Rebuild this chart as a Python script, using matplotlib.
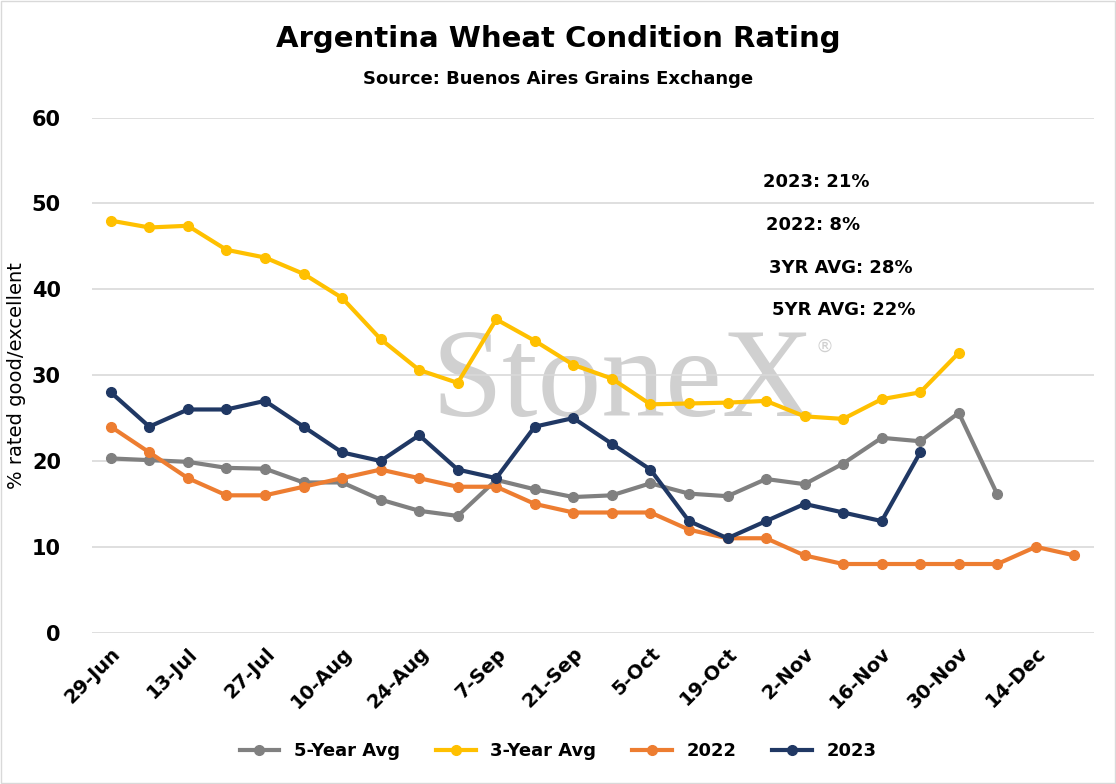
import matplotlib
matplotlib.use("Agg")
import matplotlib.pyplot as plt

dates = ["29-Jun", "6-Jul", "13-Jul", "20-Jul", "27-Jul", "3-Aug", "10-Aug", "17-Aug", "24-Aug",
         "31-Aug", "7-Sep", "14-Sep", "21-Sep", "28-Sep", "5-Oct", "12-Oct", "19-Oct", "26-Oct",
         "2-Nov", "9-Nov", "16-Nov", "23-Nov", "30-Nov", "7-Dec", "14-Dec", "21-Dec"]
avg5 = [20.3, 20.1, 19.9, 19.2, 19.1, 17.5, 17.5, 15.5, 14.2, 13.6, 17.8, 16.7, 15.8, 16.0,
        17.4, 16.2, 15.9, 17.9, 17.3, 19.7, 22.7, 22.3, 25.6, 16.1]
avg3 = [48.0, 47.2, 47.4, 44.6, 43.7, 41.8, 39.0, 34.2, 30.6, 29.1, 36.5, 34.0, 31.2, 29.6,
        26.6, 26.7, 26.8, 27.0, 25.2, 24.9, 27.2, 28.0, 32.6]
y2022 = [24, 21, 18, 16, 16, 17, 18, 19, 18, 17, 17, 15, 14, 14, 14, 12, 11, 11, 9, 8, 8, 8,
         8, 8, 10, 9]
y2023 = [28, 24, 26, 26, 27, 24, 21, 20, 23, 19, 18, 24, 25, 22, 19, 13, 11, 13, 15, 14, 13, 21]
notes = ["2023: 21%", "2022: 8%", "3YR AVG: 28%", "5YR AVG: 22%"]

fig = plt.figure(figsize=(11.16, 7.84), dpi=100)
fig.patches.append(plt.Rectangle((0.001, 0.001), 0.998, 0.998, transform=fig.transFigure,
                                 fill=False, edgecolor="#d9d9d9", lw=1))
ax = fig.add_axes([0.082, 0.193, 0.898, 0.657])

series = [(avg5, "5-Year Avg", "#808080"), (avg3, "3-Year Avg", "#FFC000"),
          (y2022, "2022", "#ED7D31"), (y2023, "2023", "#203864")]
for vals, label, color in series:
    ax.plot(range(len(vals)), vals, color=color, lw=3, marker="o", ms=7, label=label)

ax.text(0.53, 0.48, "StoneX", transform=ax.transAxes, fontsize=92, color="#d0d0d0",
        family="Liberation Serif", ha="center", va="center", zorder=0)
ax.text(0.722, 0.545, "®", transform=ax.transAxes, fontsize=13, color="#d0d0d0", zorder=0)

ax.set_xlim(-0.5, len(dates) - 0.5)
ax.set_ylim(0, 60)
ax.set_yticks(range(0, 61, 10))
ax.set_xticks(range(0, len(dates), 2))
ax.set_xticklabels(dates[::2], rotation=45, ha="right", rotation_mode="anchor",
                   fontsize=14, fontweight="bold")
ax.tick_params(axis="y", labelsize=15, length=0, pad=22)
ax.tick_params(axis="x", length=0, pad=8)
for lbl in ax.get_yticklabels():
    lbl.set_fontweight("bold")
ax.grid(axis="y", color="#d9d9d9", lw=1.2)
ax.set_axisbelow(True)
for s in ax.spines.values():
    s.set_visible(False)
ax.set_ylabel("% rated good/excellent", fontsize=14)

for i, t in enumerate(notes):
    ax.text(0.67 + (0.003 * i), 0.865 - 0.083 * i, t, transform=ax.transAxes,
            fontsize=13, fontweight="bold")

fig.text(0.5, 0.94, "Argentina Wheat Condition Rating", ha="center", fontsize=21,
         fontweight="bold")
fig.text(0.5, 0.893, "Source: Buenos Aires Grains Exchange", ha="center", fontsize=13,
         fontweight="bold")
fig.legend(loc="lower center", ncol=4, frameon=False,
           bbox_to_anchor=(0.5, 0.01), handlelength=2.2,
           prop={"weight": "bold", "size": 13})
fig.savefig("out.png", dpi=100, facecolor="white")
